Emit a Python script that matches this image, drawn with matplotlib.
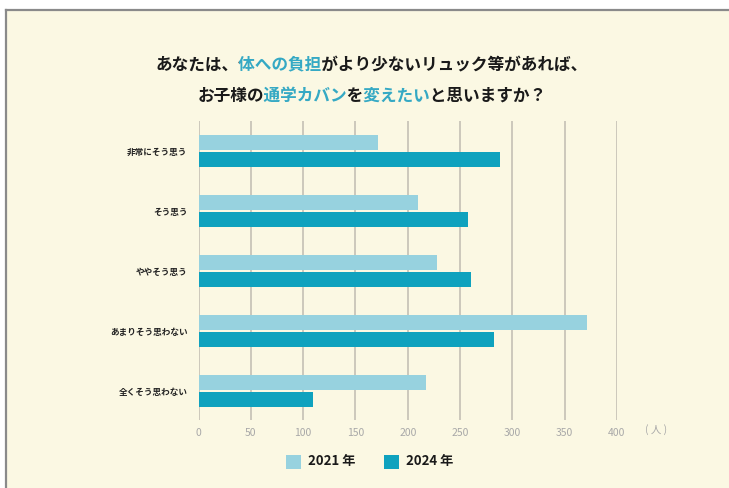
import matplotlib
matplotlib.use("Agg")
import matplotlib.pyplot as plt
from matplotlib.patches import Rectangle
from matplotlib.lines import Line2D
from matplotlib.transforms import Bbox, TransformedBbox

categories = ["非常にそう思う", "そう思う", "ややそう思う", "あまりそう思わない", "全くそう思わない"]
values_2021 = [172, 210, 228, 371, 217]
values_2024 = [288, 258, 260, 282, 109]
series_labels = ["2021 年", "2024 年"]
xticks = [0, 50, 100, 150, 200, 250, 300, 350, 400]
unit_label = "( 人 )"
title_line1 = [("あなたは、", False), ("体への負担", True), ("がより少ないリュック等があれば、", False)]
title_line2 = [("お子様の", False), ("通学カバン", True), ("を", False), ("変えたい", True), ("と思いますか？", False)]

FONT = ["Noto Sans CJK JP", "DejaVu Sans"]
plt.rcParams['font.family'] = FONT

BG = "#FBF8E3"
C21 = "#97D2DF"
C24 = "#0FA2BE"
HL = "#35A9C4"
GRID = "#C9C5B8"

W, H = 729, 488
fig = plt.figure(figsize=(W / 100, H / 100), dpi=100)
fig.patch.set_facecolor("white")

# background panel with gray border
fig.patches.append(Rectangle((6 / W, -0.1), 1.2, 1 - 10 / H + 0.1, transform=fig.transFigure,
                             facecolor=BG, edgecolor="none", zorder=-5))
fig.lines.append(Line2D([6 / W, 1.0], [1 - 10 / H, 1 - 10 / H], transform=fig.transFigure,
                        color="#8a8a8a", lw=1.6, zorder=-4))
fig.lines.append(Line2D([6 / W, 6 / W], [0, 1 - 10 / H], transform=fig.transFigure,
                        color="#8a8a8a", lw=1.6, zorder=-4))

x0, x1 = 198.5, 617.0
ytop, ybot = 121, 420
ax = fig.add_axes([x0 / W, 1 - ybot / H, (x1 - x0) / W, (ybot - ytop) / H])
ax.set_facecolor("none")
ax.set_xlim(0, 400)
ax.set_ylim(4.483, -0.5)

pos = list(range(len(categories)))
off = 0.146
bh = 0.25
ax.barh([p - off for p in pos], values_2021, height=bh, color=C21, zorder=3)
ax.barh([p + off for p in pos], values_2024, height=bh, color=C24, zorder=3)

for t in xticks:
    ax.axvline(t, color=GRID, lw=1.3, zorder=1)

for s in ax.spines.values():
    s.set_visible(False)
ax.set_xticks(xticks)
ax.set_xticklabels([str(t) for t in xticks], fontsize=7.5, color="#A8A8A8")
ax.tick_params(axis="x", length=0, pad=6)
ax.set_yticks(pos)
ax.set_yticklabels(categories, fontsize=6.2, fontweight="bold", color="#222222")
ax.tick_params(axis="y", length=0, pad=8)

fig.text(656 / W, 1 - 430 / H, unit_label, fontsize=7.5, color="#A8A8A8", ha="center", va="center")

# title with colored segments: full line drawn once per segment, clipped to that segment
fig.canvas.draw()
renderer = fig.canvas.get_renderer()

def text_width(s):
    t = fig.text(0, 0, s, fontsize=12, fontweight="bold")
    w = t.get_window_extent(renderer=renderer).width
    t.remove()
    return w

def colored_line(parts, yc, xc=372):
    full = "".join(p for p, _ in parts)
    total = text_width(full)
    adv = total / len(full)
    start = xc - total / 2
    k = 0
    for i, (s, hl) in enumerate(parts):
        left = start + k * adv if i > 0 else 0
        k += len(s)
        right = start + k * adv if i < len(parts) - 1 else W
        t = fig.text(xc / W, 1 - yc / H, full, fontsize=12, fontweight="bold",
                     color=HL if hl else "#1a1a1a", ha="center", va="center")
        t.set_clip_on(True)
        t.set_clip_box(TransformedBbox(Bbox([[left / W, 1 - (yc + 16) / H], [right / W, 1 - (yc - 16) / H]]),
                                       fig.transFigure))

colored_line(title_line1, 65)
colored_line(title_line2, 97)

# legend
for (lx, col, lab) in [(286, C21, series_labels[0]), (384, C24, series_labels[1])]:
    fig.patches.append(Rectangle((lx / W, 1 - 469 / H), 14.5 / W, 14 / H, transform=fig.transFigure,
                                 facecolor=col, edgecolor="none", zorder=2))
    fig.text((lx + 22) / W, 1 - 461 / H, lab, fontsize=9.5, fontweight="bold", color="#1a1a1a",
             ha="left", va="center")

fig.savefig("out.png", dpi=100, facecolor=fig.get_facecolor())
